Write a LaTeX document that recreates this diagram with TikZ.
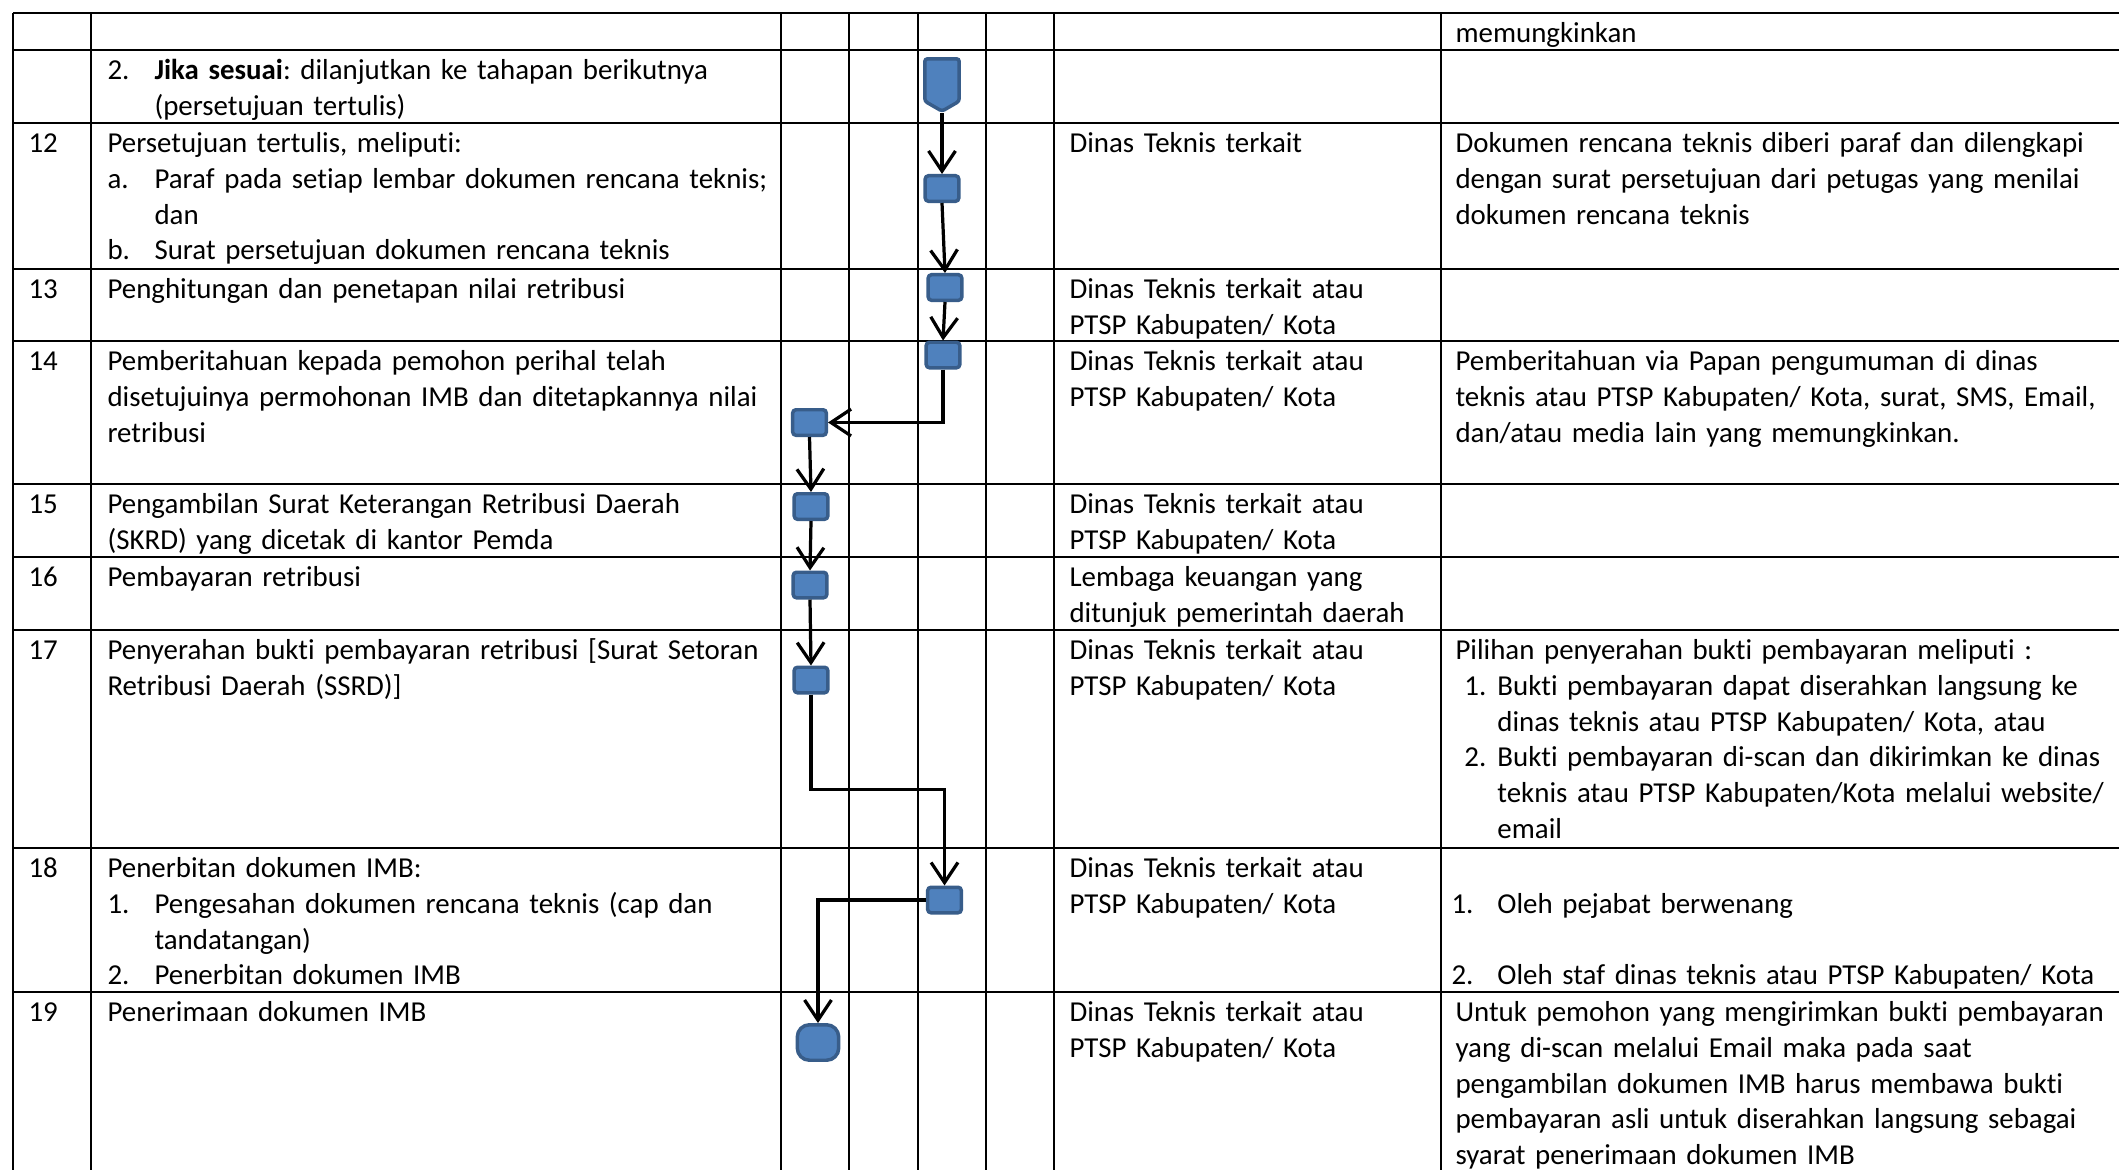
\documentclass[tikz,border=0pt]{standalone}
\usepackage{fontspec}
\setmainfont{Carlito}[Ligatures=NoCommon]
\usetikzlibrary{arrows.meta, positioning, shapes.symbols}
\definecolor{flowfill}{HTML}{4F81BD}
\definecolor{flowline}{HTML}{385D8A}
\newcommand{\cellfont}{\fontsize{10.75pt}{13.3pt}\selectfont\frenchspacing}
\newcommand{\itm}[1]{\makebox[17.5pt][l]{#1}}
\newcommand{\ind}{\hspace*{17.5pt}}
\newcommand{\dinas}{Dinas Teknis terkait atau\\PTSP Kabupaten/ Kota}

\begin{document}
\begin{tikzpicture}[x=0.3722pt, y=-0.3722pt,
  grid/.style={line width=0.8pt},
  cell/.style={anchor=north west, inner sep=0pt, align=left, font=\cellfont, text width=#1},
  cell/.default=330pt,
  proc/.style={draw=flowline, fill=flowfill, line width=1.3pt, rounded corners=1.2pt,
               minimum width=12.5pt, minimum height=9.5pt, inner sep=0pt},
  offpage/.style={shape=signal, signal to=south, signal pointer angle=120,
               draw=flowline, fill=flowfill, line width=1.3pt, rounded corners=1pt,
               minimum width=12.8pt, minimum height=15.8pt, inner sep=0pt},
  term/.style={draw=flowline, fill=flowfill, line width=1.3pt, rounded corners=4.5pt,
               minimum width=15.4pt, minimum height=13.2pt, inner sep=0pt},
  arr/.style={-{Straight Barb[length=7.5pt, width=10pt]}, line width=1.2pt}
]
  \useasboundingbox (0,0) rectangle (2119,1170);

  % table grid
  \foreach \x in {13,91,781,849,918,986,1054,1441}
    \draw[grid] (\x,13) -- (\x,1170);
  \foreach \y in {13,50,123,269,341,484,557,630,848,992}
    \draw[grid] (13,\y) -- (2119,\y);

  % nomor
  \node[cell=20pt] (no12) at (28,127) {\strut 12};
  \node[cell=20pt] (no13) at (28,273) {\strut 13};
  \node[cell=20pt] (no14) at (28,345) {\strut 14};
  \node[cell=20pt] (no15) at (28,488) {\strut 15};
  \node[cell=20pt] (no16) at (28,561) {\strut 16};
  \node[cell=20pt] (no17) at (28,634) {\strut 17};
  \node[cell=20pt] (no18) at (28,852) {\strut 18};
  \node[cell=20pt] (no19) at (28,996) {\strut 19};

  % kegiatan
  \node[cell] (keg11) at (107,54) {\strut\itm{2.}\textbf{Jika sesuai}: dilanjutkan ke tahapan berikutnya\\
    \ind(persetujuan tertulis)};
  \node[cell] (keg12) at (107,127) {\strut Persetujuan tertulis, meliputi:\\
    \itm{a.}Paraf pada setiap lembar dokumen rencana teknis;\\
    \ind dan\\
    \itm{b.}Surat persetujuan dokumen rencana teknis};
  \node[cell] (keg13) at (107,273) {\strut Penghitungan dan penetapan nilai retribusi};
  \node[cell] (keg14) at (107,345) {\strut Pemberitahuan kepada pemohon perihal telah\\
    disetujuinya permohonan IMB dan ditetapkannya nilai\\retribusi};
  \node[cell] (keg15) at (107,488) {\strut Pengambilan Surat Keterangan Retribusi Daerah\\
    (SKRD) yang dicetak di kantor Pemda};
  \node[cell] (keg16) at (107,561) {\strut Pembayaran retribusi};
  \node[cell] (keg17) at (107,634) {\strut Penyerahan bukti pembayaran retribusi [Surat Setoran\\
    Retribusi Daerah (SSRD)]};
  \node[cell] (keg18) at (107,852) {\strut Penerbitan dokumen IMB:\\
    \itm{1.}Pengesahan dokumen rencana teknis (cap dan\\
    \ind tandatangan)\\
    \itm{2.}Penerbitan dokumen IMB};
  \node[cell] (keg19) at (107,996) {\strut Penerimaan dokumen IMB};

  % pelaksana
  \node[cell=150pt] (pel12) at (1069,127) {\strut Dinas Teknis terkait};
  \node[cell=150pt] (pel13) at (1069,273) {\strut\dinas};
  \node[cell=150pt] (pel14) at (1069,345) {\strut\dinas};
  \node[cell=150pt] (pel15) at (1069,488) {\strut\dinas};
  \node[cell=150pt] (pel16) at (1069,561) {\strut Lembaga keuangan yang\\ditunjuk pemerintah daerah};
  \node[cell=150pt] (pel17) at (1069,634) {\strut\dinas};
  \node[cell=150pt] (pel18) at (1069,852) {\strut\dinas};
  \node[cell=150pt] (pel19) at (1069,996) {\strut\dinas};

  % keterangan
  \node[cell] (ket10) at (1455,17) {\strut memungkinkan};
  \node[cell] (ket12) at (1455,127) {\strut Dokumen rencana teknis diberi paraf dan dilengkapi\\
    dengan surat persetujuan dari petugas yang menilai\\dokumen rencana teknis};
  \node[cell] (ket14) at (1455,345) {\strut Pemberitahuan via Papan pengumuman di dinas\\
    teknis atau PTSP Kabupaten/ Kota, surat, SMS, Email,\\
    dan/atau media lain yang memungkinkan.};
  \node[cell] (ket17) at (1455,634) {\strut Pilihan penyerahan bukti pembayaran meliputi :\\
    \hspace*{3.3pt}\makebox[12.3pt][l]{1.}Bukti pembayaran dapat diserahkan langsung ke\\
    \hspace*{15.6pt}dinas teknis atau PTSP Kabupaten/ Kota, atau\\
    \hspace*{3.3pt}\makebox[12.3pt][l]{2.}Bukti pembayaran di-scan dan dikirimkan ke dinas\\
    \hspace*{15.6pt}teknis atau PTSP Kabupaten/Kota melalui website/\\
    \hspace*{15.6pt}email};
  \node[cell] (ket18) at (1451,852) {\strut\\
    \makebox[17.1pt][l]{1.}Oleh pejabat berwenang\\\strut\\
    \makebox[17.1pt][l]{2.}Oleh staf dinas teknis atau PTSP Kabupaten/ Kota};
  \node[cell] (ket19) at (1455,996) {\strut Untuk pemohon yang mengirimkan bukti pembayaran\\
    yang di-scan melalui Email maka pada saat\\
    pengambilan dokumen IMB harus membawa bukti\\
    pembayaran asli untuk diserahkan langsung sebagai\\
    syarat penerimaan dokumen IMB};

  % alur
  \node[offpage] (sesuai) at (942,80) {};
  \node[proc] (s12)  at (942,188.5) {};
  \node[proc] (s13)  at (945,287.5) {};
  \node[proc] (s14a) at (943,355) {};
  \node[proc] (s14b) at (809.5,422.5) {};
  \node[proc] (s15)  at (811,506.5) {};
  \node[proc] (s16)  at (810,585) {};
  \node[proc] (s17)  at (811,680) {};
  \node[proc] (s18)  at (944.5,900) {};
  \node[term] (s19)  at (818,1042.5) {};

  \draw[arr] (sesuai.south) -- (s12.north);
  \draw[arr] (s12.south) -- (s13.north);
  \draw[arr] (s13.south) -- (s14a.north);
  \draw[arr] (s14a.south) |- (s14b.east);
  \draw[arr] (s14b.south) -- (s15.north);
  \draw[arr] (s15.south) -- (s16.north);
  \draw[arr] (s16.south) -- (s17.north);
  \draw[arr] (s17.south) -- ++(0,95) -| (s18.north);
  \draw[arr] (s18.west) -| (s19.north);
\end{tikzpicture}
\end{document}
